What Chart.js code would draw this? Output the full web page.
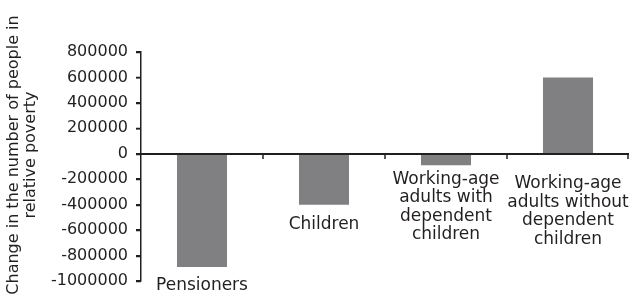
<!DOCTYPE html>
<html lang="en">
<head>
  <meta charset="UTF-8">
  <title>Change in relative poverty</title>
  <script src="https://cdn.jsdelivr.net/npm/chart.js"></script>
  <style>
    html, body { margin: 0; padding: 0; background: #fff; }
    #wrap { width: 630px; height: 299px; position: relative; }
  </style>
</head>
<body>
  <div id="wrap"><canvas id="povertyChart"></canvas></div>

  <script>
    // data
    const categories = [
      ['Pensioners'],
      ['Children'],
      ['Working-age', 'adults with', 'dependent', 'children'],
      ['Working-age', 'adults without', 'dependent', 'children']
    ];
    const changeValues = [-890000, -400000, -90000, 600000];
    const yTicks = [800000, 600000, 400000, 200000, 0, -200000, -400000, -600000, -800000, -1000000];
    const yTitle = ['Change in the number of people in', 'relative poverty'];

    const ink = '#231f20';
    const font = 'DejaVu Sans';

    // category names sit under each bar (or under the axis)
    const barLabels = {
      id: 'barLabels',
      afterDraw(chart, args, opts) {
        const ctx = chart.ctx;
        const y = chart.scales.y;
        const zero = y.getPixelForValue(0);
        const bars = chart.getDatasetMeta(0).data;
        ctx.save();
        ctx.fillStyle = ink;
        ctx.font = '17px "' + font + '"';
        ctx.textAlign = 'center';
        ctx.textBaseline = 'middle';
        categories.forEach((lines, i) => {
          const bar = bars[i];
          const start = Math.max(bar.y, zero) + opts.offsets[i];
          lines.forEach((t, j) => ctx.fillText(t, bar.x, start + j * 18.5));
        });
        ctx.restore();
      }
    };

    // axis along zero with marks between categories, plus y tick marks
    const axisMarks = {
      id: 'axisMarks',
      afterDatasetsDraw(chart) {
        const ctx = chart.ctx;
        const y = chart.scales.y;
        const zero = Math.round(y.getPixelForValue(0));
        const area = chart.chartArea;
        const bars = chart.getDatasetMeta(0).data;
        ctx.save();
        ctx.strokeStyle = ink;
        ctx.lineWidth = 2;
        ctx.beginPath();
        ctx.moveTo(area.left, zero);
        ctx.lineTo(area.right, zero);
        ctx.stroke();
        ctx.lineWidth = 1.5;
        for (let i = 0; i < bars.length; i++) {
          const px = i < bars.length - 1
            ? (bars[i].x + bars[i + 1].x) / 2
            : area.right - 1;
          ctx.beginPath();
          ctx.moveTo(px, zero);
          ctx.lineTo(px, zero + 5);
          ctx.stroke();
        }
        yTicks.forEach(v => {
          const py = Math.round(y.getPixelForValue(v)) + 0.5;
          ctx.beginPath();
          ctx.moveTo(area.left - 5, py);
          ctx.lineTo(area.left, py);
          ctx.stroke();
        });
        ctx.restore();
      }
    };

    const axisTitle = {
      id: 'axisTitle',
      afterDraw(chart) {
        const ctx = chart.ctx;
        ctx.save();
        ctx.fillStyle = ink;
        ctx.font = '16px "' + font + '"';
        ctx.textAlign = 'center';
        ctx.textBaseline = 'middle';
        ctx.translate(14, 155);
        ctx.rotate(-Math.PI / 2);
        yTitle.forEach((t, j) => ctx.fillText(t, 0, j * 17));
        ctx.restore();
      }
    };

    new Chart(document.getElementById('povertyChart'), {
      type: 'bar',
      data: {
        labels: categories.map(c => c.join(' ')),
        datasets: [{
          data: changeValues,
          backgroundColor: '#808083',
          categoryPercentage: 1,
          barPercentage: 0.41
        }]
      },
      options: {
        responsive: true,
        maintainAspectRatio: false,
        animation: false,
        layout: { padding: { top: 52, bottom: 18, left: 0, right: 1 } },
        plugins: {
          legend: { display: false },
          tooltip: { enabled: false },
          barLabels: { offsets: [19, 20, 14, 30] }
        },
        scales: {
          x: { display: false },
          y: {
            min: -1000000,
            max: 800000,
            afterFit(scale) { scale.width = 141; },
            afterBuildTicks(scale) { scale.ticks = yTicks.map(v => ({ value: v })); },
            border: { display: true, color: ink, width: 1.5 },
            grid: { drawOnChartArea: false, drawTicks: true, tickLength: 5, color: ink, lineWidth: 1.5 },
            ticks: {
              color: ink,
              padding: 8,
              font: { family: font, size: 16 },
              callback: v => String(v)
            }
          }
        }
      },
      plugins: [barLabels, axisMarks, axisTitle]
    });
  </script>
</body>
</html>
